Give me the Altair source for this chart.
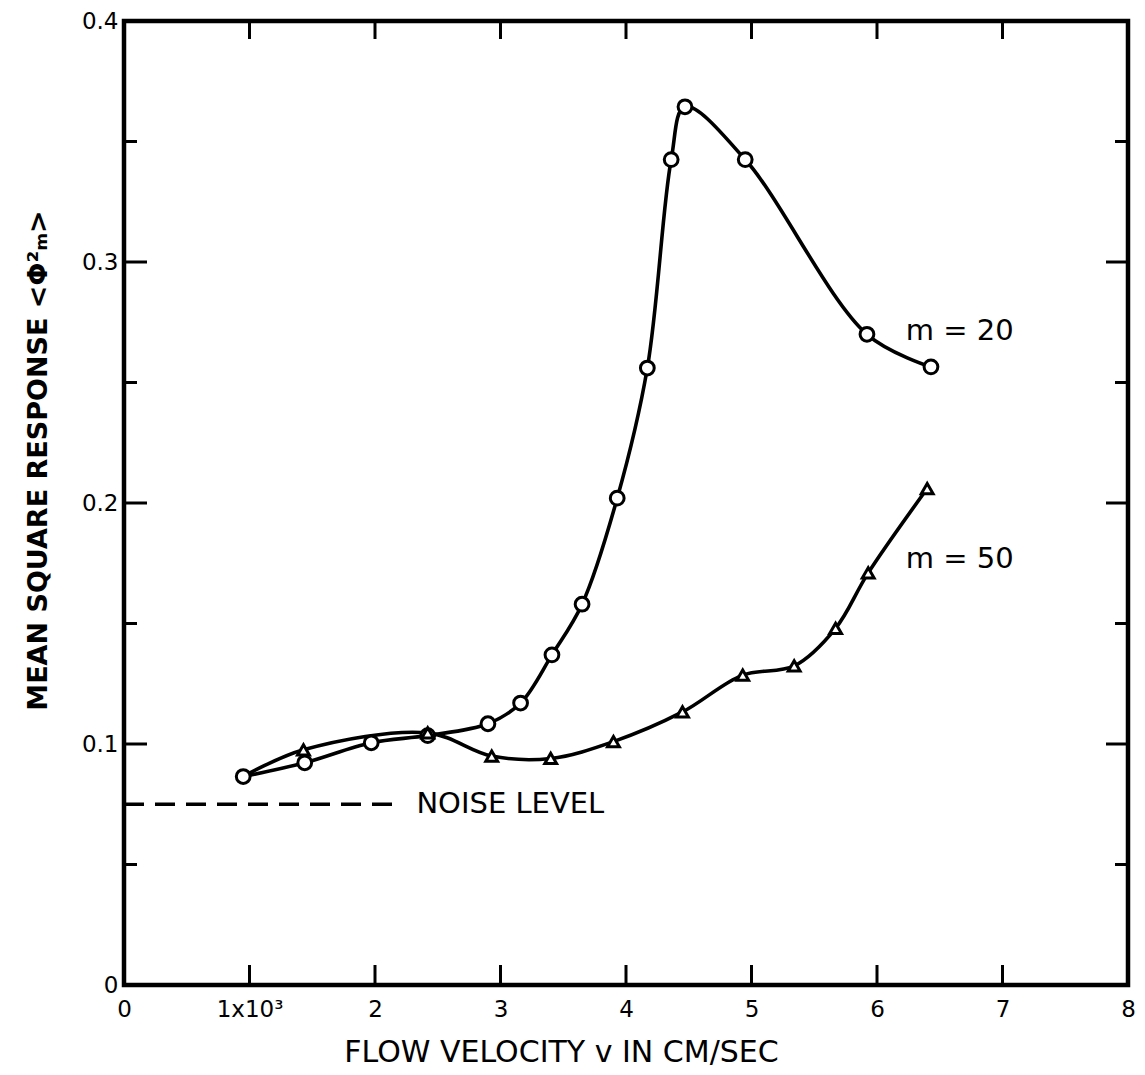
import altair as alt
import pandas as pd

# ---- data ----
m20_x = [0.95, 1.44, 1.97, 2.42, 2.90, 3.16, 3.41, 3.65, 3.93, 4.17, 4.36, 4.47, 4.95, 5.92, 6.43]
m20_y = [0.0865, 0.0922, 0.1005, 0.1035, 0.1084, 0.117, 0.137, 0.158, 0.202, 0.256, 0.3425, 0.3644, 0.3425, 0.270, 0.2565]

# m = 50 curve starts at the first (shared) circle point
m50_x = [1.43, 2.42, 2.93, 3.40, 3.90, 4.45, 4.93, 5.34, 5.67, 5.93, 6.40]
m50_y = [0.0976, 0.1046, 0.095, 0.094, 0.101, 0.1133, 0.1286, 0.1324, 0.148, 0.171, 0.206]

noise_level = 0.075
noise_x = [0.0, 2.2]
noise_label = "NOISE LEVEL"
noise_label_x = 2.33

curve_labels = ["m = 20", "m = 50"]
curve_label_x = [6.23, 6.23]
curve_label_y = [0.2714, 0.1766]

x_label_values = [0, 1, 2, 3, 4, 5, 6, 7, 8]
y_label_values = [0, 0.1, 0.2, 0.3, 0.4]
x_ticks = [1, 2, 3, 4, 5, 6, 7]
y_major_ticks = [0.1, 0.2, 0.3]
y_minor_ticks = [0.05, 0.15, 0.25, 0.35]

x_title = "FLOW VELOCITY v IN CM/SEC"
y_title = "MEAN SQUARE RESPONSE  <Φ²ₘ>"

FONT = "DejaVu Sans"
W, H = 1004, 964

xscale = alt.Scale(domain=[0, 8], nice=False, zero=False)
yscale = alt.Scale(domain=[0, 0.4], nice=False, zero=False)

xaxis = alt.Axis(
    values=x_label_values,
    labelExpr="datum.value == 1 ? '1x10³' : format(datum.value, 'd')",
    ticks=False, domain=False, grid=False,
    labelFont=FONT, labelFontSize=23, labelColor="black", labelPadding=13,
    labelFlush=False,
    title=x_title, titleFont=FONT, titleFontSize=30, titleFontWeight="normal",
    titleColor="black", titleX=437, titleY=67, titleAlign="center",
    titleBaseline="middle", titleAnchor="start",
)
yaxis = alt.Axis(
    values=y_label_values,
    labelExpr="datum.value == 0 ? '0' : format(datum.value, '.1f')",
    ticks=False, domain=False, grid=False,
    labelFont=FONT, labelFontSize=23, labelColor="black", labelPadding=6,
    labelFlush=False,
    title=y_title, titleFont=FONT, titleFontSize=27, titleFontWeight="bold",
    titleColor="black", titleX=-86, titleY=439, titleAngle=270,
    titleAlign="center", titleBaseline="middle", titleAnchor="start",
)


def X(field):
    return alt.X(field, type="quantitative", scale=xscale, axis=xaxis)


def Y(field):
    return alt.Y(field, type="quantitative", scale=yscale, axis=yaxis)


df20 = pd.DataFrame({"x": m20_x, "y": m20_y})
df50_pts = pd.DataFrame({"x": m50_x, "y": m50_y})
df50_line = pd.DataFrame({"x": [m20_x[0]] + m50_x, "y": [m20_y[0]] + m50_y})

line20 = alt.Chart(df20).mark_line(
    color="black", strokeWidth=3.6, interpolate="catmull-rom"
).encode(x=X("x"), y=Y("y"))
line50 = alt.Chart(df50_line).mark_line(
    color="black", strokeWidth=3.6, interpolate="catmull-rom"
).encode(x=X("x"), y=Y("y"))

pts20 = alt.Chart(df20).mark_point(
    shape="circle", filled=True, fill="white", stroke="black",
    strokeWidth=3, size=190, opacity=1,
).encode(x=X("x"), y=Y("y"))
pts50 = alt.Chart(df50_pts).mark_point(
    shape="triangle-up", filled=True, fill="white", stroke="black",
    strokeWidth=3, size=140, opacity=1,
).encode(x=X("x"), y=Y("y"))

df_noise = pd.DataFrame({"x": [noise_x[0]], "x2": [noise_x[1]], "y": [noise_level]})
noise = alt.Chart(df_noise).mark_rule(
    color="black", strokeWidth=3.5, strokeDash=[20, 11]
).encode(x=X("x"), x2="x2", y=Y("y"))
df_noise_txt = pd.DataFrame({"x": [noise_label_x], "y": [noise_level], "t": [noise_label]})
noise_txt = alt.Chart(df_noise_txt).mark_text(
    align="left", baseline="middle", font=FONT, fontSize=29, color="black"
).encode(x=X("x"), y=Y("y"), text="t")

df_lab = pd.DataFrame({"x": curve_label_x, "y": curve_label_y, "t": curve_labels})
labels = alt.Chart(df_lab).mark_text(
    align="left", baseline="middle", font=FONT, fontSize=29, color="black"
).encode(x=X("x"), y=Y("y"), text="t")

dfx = pd.DataFrame({"x": x_ticks})
bottom_ticks = alt.Chart(dfx).mark_rule(color="black", strokeWidth=3).encode(
    x=X("x"), y=alt.value(H), y2=alt.value(H - 20))
top_ticks = alt.Chart(dfx).mark_rule(color="black", strokeWidth=3).encode(
    x=X("x"), y=alt.value(0), y2=alt.value(18))

dfy_maj = pd.DataFrame({"y": y_major_ticks})
dfy_min = pd.DataFrame({"y": y_minor_ticks})
left_major = alt.Chart(dfy_maj).mark_rule(color="black", strokeWidth=3).encode(
    y=Y("y"), x=alt.value(0), x2=alt.value(23))
left_minor = alt.Chart(dfy_min).mark_rule(color="black", strokeWidth=3).encode(
    y=Y("y"), x=alt.value(0), x2=alt.value(13))
right_major = alt.Chart(dfy_maj).mark_rule(color="black", strokeWidth=3).encode(
    y=Y("y"), x=alt.value(W), x2=alt.value(W - 22))
right_minor = alt.Chart(dfy_min).mark_rule(color="black", strokeWidth=3).encode(
    y=Y("y"), x=alt.value(W), x2=alt.value(W - 13))

chart = alt.layer(
    bottom_ticks, top_ticks, left_major, left_minor, right_major, right_minor,
    noise, noise_txt, line20, line50, pts20, pts50, labels,
).properties(
    width=W, height=H,
    autosize=alt.AutoSizeParams(type="none"),
    padding={"left": 116, "top": 13, "right": 9, "bottom": 82},
    background="white",
).configure_view(
    stroke="black", strokeWidth=4.5
)

chart.save("out.html", embed_options={"renderer": "svg", "actions": False})
